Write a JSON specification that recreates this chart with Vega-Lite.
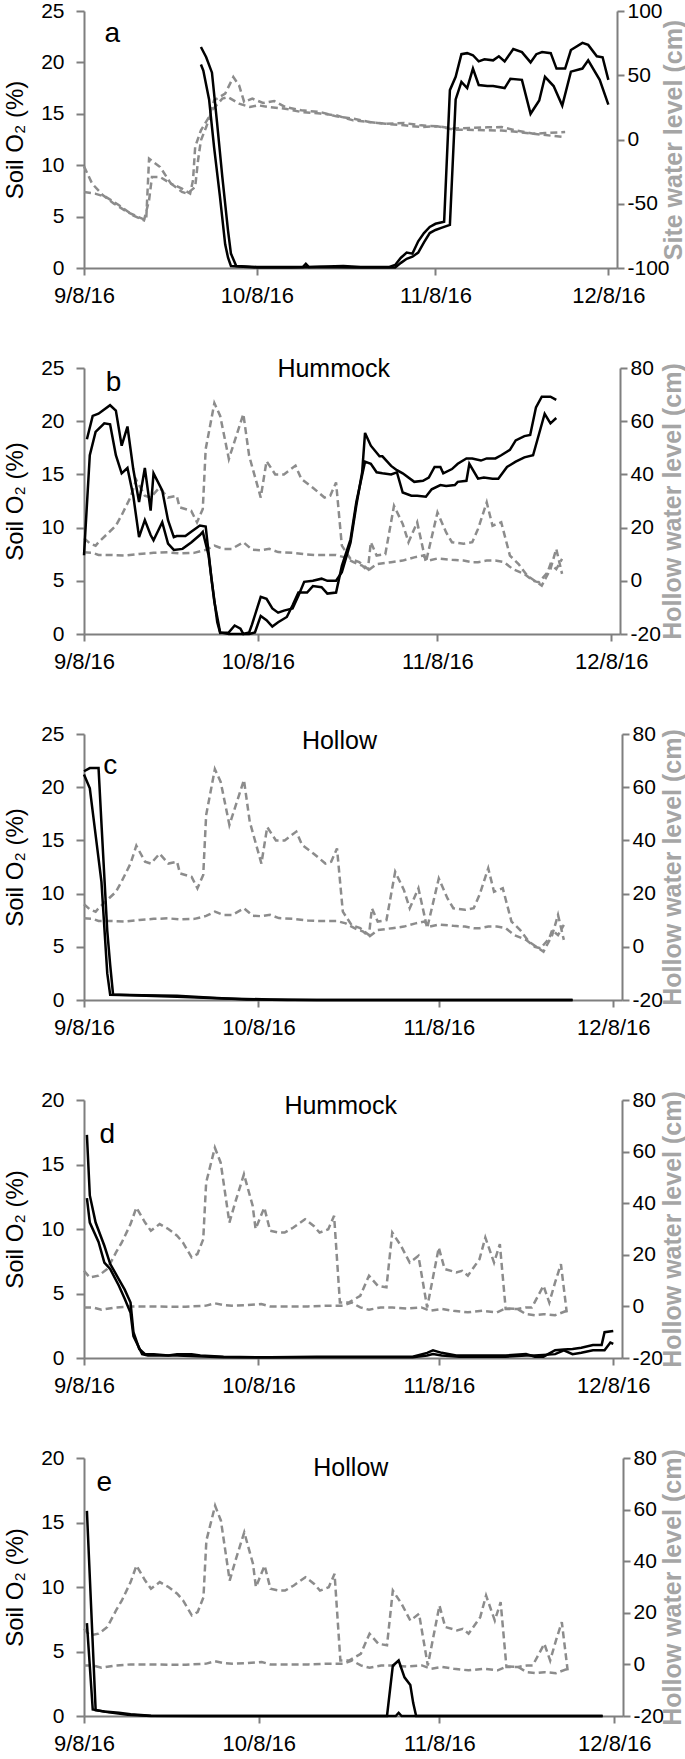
{
"$schema": "https://vega.github.io/schema/vega-lite/v6.json",
"padding": {"left": 3, "top": 0, "right": 0, "bottom": 0},
"config": {
 "view": {"stroke": null},
 "font": "Liberation Sans",
 "axis": {"labelFont": "Liberation Sans", "titleFont": "Liberation Sans", "labelFontSize": 21, "labelColor": "#000000", "domainColor": "#7f7f7f", "tickColor": "#7f7f7f", "domainWidth": 2, "tickWidth": 2, "grid": false, "labelFlush": false, "labelOverlap": false},
 "axisLeft": {"tickSize": 8, "labelPadding": 12, "titleFontSize": 24, "titleFontWeight": "normal", "titleColor": "#000000", "titlePadding": 13},
 "axisRight": {"tickSize": 7, "labelPadding": 3, "titleFontSize": 25, "titleFontWeight": "bold", "titleColor": "#a5a5a5", "titleAngle": 270, "titleBaseline": "top", "labelAlign": "left", "labelExpr": "replace(datum.label, '\u2212', '-')"},
 "axisBottom": {"tickSize": 7, "labelPadding": 10, "labelFontSize": 22, "labelExpr": "utcFormat(datum.value, '%-m/%-d/%y')"},
 "text": {"font": "Liberation Sans", "color": "#000000"}
},
"datasets": {
 "a_o2": [
  {"s":"A","t":"2016-09-28T07:00Z","v":21.5},{"s":"A","t":"2016-09-29T05:00Z","v":20.5},{"s":"A","t":"2016-09-30T05:00Z","v":19.0},{"s":"A","t":"2016-10-01T02:00Z","v":14.2},{"s":"A","t":"2016-10-02T00:00Z","v":8.9},{"s":"A","t":"2016-10-03T00:00Z","v":3.6},{"s":"A","t":"2016-10-03T12:00Z","v":1.4},{"s":"A","t":"2016-10-04T10:00Z","v":0.2},{"s":"A","t":"2016-10-08T00:00Z","v":0.1},{"s":"A","t":"2016-10-12T00:00Z","v":0.1},{"s":"A","t":"2016-10-16T00:00Z","v":0.1},{"s":"A","t":"2016-10-16T12:00Z","v":0.4},{"s":"A","t":"2016-10-17T00:00Z","v":0.1},{"s":"A","t":"2016-10-20T00:00Z","v":0.15},{"s":"A","t":"2016-10-23T00:00Z","v":0.2},{"s":"A","t":"2016-10-26T00:00Z","v":0.1},{"s":"A","t":"2016-10-31T00:00Z","v":0.1},{"s":"A","t":"2016-11-01T00:00Z","v":0.3},{"s":"A","t":"2016-11-02T00:00Z","v":1.0},{"s":"A","t":"2016-11-03T00:00Z","v":1.5},{"s":"A","t":"2016-11-04T00:00Z","v":1.4},{"s":"A","t":"2016-11-05T00:00Z","v":2.6},{"s":"A","t":"2016-11-06T00:00Z","v":3.4},{"s":"A","t":"2016-11-07T00:00Z","v":4.0},{"s":"A","t":"2016-11-08T00:00Z","v":4.3},{"s":"A","t":"2016-11-09T12:00Z","v":4.5},{"s":"A","t":"2016-11-10T12:00Z","v":17.3},{"s":"A","t":"2016-11-11T12:00Z","v":18.6},{"s":"A","t":"2016-11-12T12:00Z","v":20.8},{"s":"A","t":"2016-11-13T12:00Z","v":20.9},{"s":"A","t":"2016-11-14T12:00Z","v":20.7},{"s":"A","t":"2016-11-15T12:00Z","v":20.1},{"s":"A","t":"2016-11-16T12:00Z","v":20.3},{"s":"A","t":"2016-11-18T00:00Z","v":20.2},{"s":"A","t":"2016-11-19T00:00Z","v":20.6},{"s":"A","t":"2016-11-20T00:00Z","v":20.1},{"s":"A","t":"2016-11-21T12:00Z","v":21.3},{"s":"A","t":"2016-11-23T00:00Z","v":21.0},{"s":"A","t":"2016-11-24T12:00Z","v":20.0},{"s":"A","t":"2016-11-25T12:00Z","v":20.8},{"s":"A","t":"2016-11-26T12:00Z","v":21.0},{"s":"A","t":"2016-11-28T00:00Z","v":20.9},{"s":"A","t":"2016-11-29T00:00Z","v":19.4},{"s":"A","t":"2016-11-30T12:00Z","v":19.4},{"s":"A","t":"2016-12-01T12:00Z","v":21.2},{"s":"A","t":"2016-12-03T12:00Z","v":21.9},{"s":"A","t":"2016-12-04T12:00Z","v":21.7},{"s":"A","t":"2016-12-06T00:00Z","v":20.6},{"s":"A","t":"2016-12-07T00:00Z","v":20.5},{"s":"A","t":"2016-12-08T00:00Z","v":18.3},
  {"s":"B","t":"2016-09-28T07:00Z","v":19.8},{"s":"B","t":"2016-09-28T17:00Z","v":19.2},{"s":"B","t":"2016-09-29T17:00Z","v":16.4},{"s":"B","t":"2016-09-30T14:00Z","v":11.7},{"s":"B","t":"2016-10-01T14:00Z","v":7.0},{"s":"B","t":"2016-10-02T12:00Z","v":2.3},{"s":"B","t":"2016-10-03T00:00Z","v":1.0},{"s":"B","t":"2016-10-03T12:00Z","v":0.2},{"s":"B","t":"2016-10-08T00:00Z","v":0.05},{"s":"B","t":"2016-10-14T00:00Z","v":0.05},{"s":"B","t":"2016-10-19T00:00Z","v":0.1},{"s":"B","t":"2016-10-25T00:00Z","v":0.05},{"s":"B","t":"2016-11-01T00:00Z","v":0.05},{"s":"B","t":"2016-11-02T00:00Z","v":0.5},{"s":"B","t":"2016-11-03T00:00Z","v":0.9},{"s":"B","t":"2016-11-04T00:00Z","v":1.1},{"s":"B","t":"2016-11-05T00:00Z","v":1.5},{"s":"B","t":"2016-11-06T00:00Z","v":2.5},{"s":"B","t":"2016-11-07T00:00Z","v":3.4},{"s":"B","t":"2016-11-08T00:00Z","v":3.7},{"s":"B","t":"2016-11-09T00:00Z","v":3.9},{"s":"B","t":"2016-11-10T00:00Z","v":4.1},{"s":"B","t":"2016-11-10T12:00Z","v":4.2},{"s":"B","t":"2016-11-11T12:00Z","v":16.4},{"s":"B","t":"2016-11-12T12:00Z","v":18.1},{"s":"B","t":"2016-11-13T12:00Z","v":17.5},{"s":"B","t":"2016-11-14T12:00Z","v":19.4},{"s":"B","t":"2016-11-15T12:00Z","v":17.8},{"s":"B","t":"2016-11-17T00:00Z","v":17.7},{"s":"B","t":"2016-11-18T00:00Z","v":17.7},{"s":"B","t":"2016-11-20T00:00Z","v":17.5},{"s":"B","t":"2016-11-21T00:00Z","v":18.4},{"s":"B","t":"2016-11-23T00:00Z","v":18.3},{"s":"B","t":"2016-11-24T12:00Z","v":15.0},{"s":"B","t":"2016-11-26T00:00Z","v":16.3},{"s":"B","t":"2016-11-27T00:00Z","v":18.6},{"s":"B","t":"2016-11-28T12:00Z","v":17.7},{"s":"B","t":"2016-11-30T00:00Z","v":15.8},{"s":"B","t":"2016-12-01T12:00Z","v":19.1},{"s":"B","t":"2016-12-03T12:00Z","v":19.4},{"s":"B","t":"2016-12-04T12:00Z","v":20.2},{"s":"B","t":"2016-12-06T12:00Z","v":18.3},{"s":"B","t":"2016-12-08T00:00Z","v":15.9}
 ],
 "a_w": [
  {"s":"W1","t":"2016-09-08T00:00Z","v":-20.9},{"s":"W1","t":"2016-09-09T10:00Z","v":-34.4},{"s":"W1","t":"2016-09-11T07:00Z","v":-43.4},{"s":"W1","t":"2016-09-13T05:00Z","v":-49.9},{"s":"W1","t":"2016-09-15T12:00Z","v":-56.4},{"s":"W1","t":"2016-09-17T10:00Z","v":-60.3},{"s":"W1","t":"2016-09-18T19:00Z","v":-62.9},{"s":"W1","t":"2016-09-19T07:00Z","v":-14.9},{"s":"W1","t":"2016-09-21T05:00Z","v":-21.4},{"s":"W1","t":"2016-09-23T02:00Z","v":-34.3},{"s":"W1","t":"2016-09-25T00:00Z","v":-38.2},{"s":"W1","t":"2016-09-26T10:00Z","v":-42.1},{"s":"W1","t":"2016-09-26T22:00Z","v":-31.8},{"s":"W1","t":"2016-09-27T07:00Z","v":-5.8},{"s":"W1","t":"2016-09-28T07:00Z","v":7.2},{"s":"W1","t":"2016-09-29T17:00Z","v":17.5},{"s":"W1","t":"2016-09-30T14:00Z","v":30.5},{"s":"W1","t":"2016-10-02T12:00Z","v":35.7},{"s":"W1","t":"2016-10-03T22:00Z","v":48.6},{"s":"W1","t":"2016-10-04T22:00Z","v":42.2},{"s":"W1","t":"2016-10-05T19:00Z","v":29.2},{"s":"W1","t":"2016-10-07T05:00Z","v":31.8},{"s":"W1","t":"2016-10-09T02:00Z","v":28.4},{"s":"W1","t":"2016-10-11T00:00Z","v":30},{"s":"W1","t":"2016-10-12T22:00Z","v":25.3},{"s":"W1","t":"2016-10-15T17:00Z","v":22.7},{"s":"W1","t":"2016-10-19T00:00Z","v":21.4},{"s":"W1","t":"2016-10-21T19:00Z","v":18},{"s":"W1","t":"2016-10-24T17:00Z","v":16.2},{"s":"W1","t":"2016-10-27T12:00Z","v":13.6},{"s":"W1","t":"2016-10-30T07:00Z","v":12.3},{"s":"W1","t":"2016-11-02T14:00Z","v":12.8},{"s":"W1","t":"2016-11-05T12:00Z","v":11},{"s":"W1","t":"2016-11-08T07:00Z","v":10.3},{"s":"W1","t":"2016-11-11T02:00Z","v":8.5},{"s":"W1","t":"2016-11-17T00:00Z","v":9.5},{"s":"W1","t":"2016-11-19T12:00Z","v":9.7},{"s":"W1","t":"2016-11-22T00:00Z","v":7},{"s":"W1","t":"2016-11-25T00:00Z","v":4.5},{"s":"W1","t":"2016-11-27T00:00Z","v":5},{"s":"W1","t":"2016-11-30T12:00Z","v":5.8},
  {"s":"W2","t":"2016-09-08T00:00Z","v":-40.8},{"s":"W2","t":"2016-09-09T22:00Z","v":-42.1},{"s":"W2","t":"2016-09-11T19:00Z","v":-44.7},{"s":"W2","t":"2016-09-14T02:00Z","v":-51.2},{"s":"W2","t":"2016-09-16T12:00Z","v":-59},{"s":"W2","t":"2016-09-18T10:00Z","v":-62.9},{"s":"W2","t":"2016-09-19T07:00Z","v":-47.3},{"s":"W2","t":"2016-09-19T19:00Z","v":-29.2},{"s":"W2","t":"2016-09-21T05:00Z","v":-29.2},{"s":"W2","t":"2016-09-23T02:00Z","v":-34.3},{"s":"W2","t":"2016-09-25T00:00Z","v":-40.8},{"s":"W2","t":"2016-09-25T22:00Z","v":-42.1},{"s":"W2","t":"2016-09-27T07:00Z","v":-37},{"s":"W2","t":"2016-09-27T19:00Z","v":-16.2},{"s":"W2","t":"2016-09-28T07:00Z","v":-0.6},{"s":"W2","t":"2016-09-29T05:00Z","v":9.7},{"s":"W2","t":"2016-09-30T05:00Z","v":22.7},{"s":"W2","t":"2016-10-02T00:00Z","v":31.8},{"s":"W2","t":"2016-10-03T00:00Z","v":33},{"s":"W2","t":"2016-10-04T22:00Z","v":27.9},{"s":"W2","t":"2016-10-06T19:00Z","v":25.3},{"s":"W2","t":"2016-10-08T05:00Z","v":26.6},{"s":"W2","t":"2016-10-10T02:00Z","v":25.3},{"s":"W2","t":"2016-10-12T22:00Z","v":24},{"s":"W2","t":"2016-10-15T17:00Z","v":21.4},{"s":"W2","t":"2016-10-19T00:00Z","v":20.2},{"s":"W2","t":"2016-10-21T19:00Z","v":18.8},{"s":"W2","t":"2016-10-24T17:00Z","v":14.9},{"s":"W2","t":"2016-10-27T12:00Z","v":13.6},{"s":"W2","t":"2016-10-30T07:00Z","v":12.3},{"s":"W2","t":"2016-11-02T14:00Z","v":11},{"s":"W2","t":"2016-11-05T12:00Z","v":9.7},{"s":"W2","t":"2016-11-08T07:00Z","v":10.3},{"s":"W2","t":"2016-11-11T02:00Z","v":7.7},{"s":"W2","t":"2016-11-19T12:00Z","v":7},{"s":"W2","t":"2016-11-22T00:00Z","v":6},{"s":"W2","t":"2016-11-25T00:00Z","v":4.5},{"s":"W2","t":"2016-11-28T00:00Z","v":3},{"s":"W2","t":"2016-11-30T00:00Z","v":2}
 ],
 "b_o2": [
  {"s":"A","t":"2016-09-08T12:00Z","v":18.3},{"s":"A","t":"2016-09-09T12:00Z","v":20.5},{"s":"A","t":"2016-09-10T12:00Z","v":20.7},{"s":"A","t":"2016-09-12T12:00Z","v":21.5},{"s":"A","t":"2016-09-13T12:00Z","v":21.0},{"s":"A","t":"2016-09-14T12:00Z","v":17.7},{"s":"A","t":"2016-09-15T12:00Z","v":19.5},{"s":"A","t":"2016-09-16T12:00Z","v":15.5},{"s":"A","t":"2016-09-17T12:00Z","v":12.4},{"s":"A","t":"2016-09-18T12:00Z","v":15.6},{"s":"A","t":"2016-09-19T12:00Z","v":11.6},{"s":"A","t":"2016-09-20T00:00Z","v":15.1},{"s":"A","t":"2016-09-21T12:00Z","v":13.5},{"s":"A","t":"2016-09-22T12:00Z","v":10.7},{"s":"A","t":"2016-09-23T12:00Z","v":9.1},{"s":"A","t":"2016-09-24T00:00Z","v":9.2},{"s":"A","t":"2016-09-25T12:00Z","v":9.2},{"s":"A","t":"2016-09-26T12:00Z","v":9.6},{"s":"A","t":"2016-09-28T00:00Z","v":10.2},{"s":"A","t":"2016-09-29T00:00Z","v":10.1},{"s":"A","t":"2016-09-30T00:00Z","v":5.2},{"s":"A","t":"2016-10-01T00:00Z","v":1.1},{"s":"A","t":"2016-10-01T12:00Z","v":0.1},{"s":"A","t":"2016-10-03T00:00Z","v":0.15},{"s":"A","t":"2016-10-04T00:00Z","v":0.8},{"s":"A","t":"2016-10-05T00:00Z","v":0.5},{"s":"A","t":"2016-10-05T12:00Z","v":0},{"s":"A","t":"2016-10-06T12:00Z","v":0.15},{"s":"A","t":"2016-10-07T00:00Z","v":0.9},{"s":"A","t":"2016-10-08T12:00Z","v":3.5},{"s":"A","t":"2016-10-09T12:00Z","v":3.3},{"s":"A","t":"2016-10-10T12:00Z","v":2.4},{"s":"A","t":"2016-10-11T12:00Z","v":2.0},{"s":"A","t":"2016-10-12T12:00Z","v":2.2},{"s":"A","t":"2016-10-14T00:00Z","v":2.4},{"s":"A","t":"2016-10-15T00:00Z","v":3.6},{"s":"A","t":"2016-10-16T00:00Z","v":4.9},{"s":"A","t":"2016-10-17T12:00Z","v":5.0},{"s":"A","t":"2016-10-19T00:00Z","v":5.2},{"s":"A","t":"2016-10-20T00:00Z","v":5.0},{"s":"A","t":"2016-10-21T12:00Z","v":5.0},{"s":"A","t":"2016-10-22T12:00Z","v":5.8},{"s":"A","t":"2016-10-24T00:00Z","v":8.6},{"s":"A","t":"2016-10-25T00:00Z","v":12.1},{"s":"A","t":"2016-10-26T00:00Z","v":15.2},{"s":"A","t":"2016-10-26T12:00Z","v":18.9},{"s":"A","t":"2016-10-27T12:00Z","v":17.7},{"s":"A","t":"2016-10-29T00:00Z","v":16.7},{"s":"A","t":"2016-10-29T12:00Z","v":16.7},{"s":"A","t":"2016-10-31T00:00Z","v":15.8},{"s":"A","t":"2016-11-01T00:00Z","v":15.4},{"s":"A","t":"2016-11-02T00:00Z","v":15.1},{"s":"A","t":"2016-11-04T00:00Z","v":14.3},{"s":"A","t":"2016-11-05T12:00Z","v":14.4},{"s":"A","t":"2016-11-06T12:00Z","v":14.7},{"s":"A","t":"2016-11-07T12:00Z","v":15.7},{"s":"A","t":"2016-11-08T12:00Z","v":15.7},{"s":"A","t":"2016-11-09T00:00Z","v":15.1},{"s":"A","t":"2016-11-10T12:00Z","v":15.5},{"s":"A","t":"2016-11-11T12:00Z","v":16.0},{"s":"A","t":"2016-11-13T00:00Z","v":16.5},{"s":"A","t":"2016-11-14T00:00Z","v":16.5},{"s":"A","t":"2016-11-15T12:00Z","v":16.3},{"s":"A","t":"2016-11-16T12:00Z","v":16.5},{"s":"A","t":"2016-11-18T00:00Z","v":16.5},{"s":"A","t":"2016-11-19T00:00Z","v":16.8},{"s":"A","t":"2016-11-20T12:00Z","v":17.3},{"s":"A","t":"2016-11-21T12:00Z","v":18.2},{"s":"A","t":"2016-11-23T00:00Z","v":18.6},{"s":"A","t":"2016-11-24T00:00Z","v":18.7},{"s":"A","t":"2016-11-25T00:00Z","v":21.3},{"s":"A","t":"2016-11-26T00:00Z","v":22.3},{"s":"A","t":"2016-11-27T12:00Z","v":22.3},{"s":"A","t":"2016-11-28T12:00Z","v":22.0},
  {"s":"B","t":"2016-09-08T00:00Z","v":7.4},{"s":"B","t":"2016-09-09T00:00Z","v":16.8},{"s":"B","t":"2016-09-10T00:00Z","v":19.0},{"s":"B","t":"2016-09-11T12:00Z","v":19.8},{"s":"B","t":"2016-09-12T12:00Z","v":19.7},{"s":"B","t":"2016-09-13T12:00Z","v":16.8},{"s":"B","t":"2016-09-14T12:00Z","v":15.1},{"s":"B","t":"2016-09-15T12:00Z","v":15.6},{"s":"B","t":"2016-09-16T12:00Z","v":13.0},{"s":"B","t":"2016-09-17T12:00Z","v":9.1},{"s":"B","t":"2016-09-18T12:00Z","v":10.7},{"s":"B","t":"2016-09-19T12:00Z","v":9.3},{"s":"B","t":"2016-09-20T00:00Z","v":8.8},{"s":"B","t":"2016-09-21T12:00Z","v":10.5},{"s":"B","t":"2016-09-22T12:00Z","v":8.5},{"s":"B","t":"2016-09-23T12:00Z","v":7.9},{"s":"B","t":"2016-09-25T00:00Z","v":8.0},{"s":"B","t":"2016-09-26T12:00Z","v":8.6},{"s":"B","t":"2016-09-28T00:00Z","v":9.3},{"s":"B","t":"2016-09-28T12:00Z","v":9.6},{"s":"B","t":"2016-09-29T12:00Z","v":7.4},{"s":"B","t":"2016-09-30T12:00Z","v":3.0},{"s":"B","t":"2016-10-01T12:00Z","v":0.15},{"s":"B","t":"2016-10-03T00:00Z","v":0},{"s":"B","t":"2016-10-06T12:00Z","v":0},{"s":"B","t":"2016-10-07T12:00Z","v":0.15},{"s":"B","t":"2016-10-08T12:00Z","v":1.7},{"s":"B","t":"2016-10-09T12:00Z","v":1.3},{"s":"B","t":"2016-10-10T12:00Z","v":0.7},{"s":"B","t":"2016-10-11T12:00Z","v":1.1},{"s":"B","t":"2016-10-13T00:00Z","v":1.6},{"s":"B","t":"2016-10-14T00:00Z","v":2.7},{"s":"B","t":"2016-10-15T00:00Z","v":3.9},{"s":"B","t":"2016-10-16T12:00Z","v":3.9},{"s":"B","t":"2016-10-17T12:00Z","v":4.5},{"s":"B","t":"2016-10-19T00:00Z","v":4.4},{"s":"B","t":"2016-10-20T00:00Z","v":3.8},{"s":"B","t":"2016-10-21T12:00Z","v":3.9},{"s":"B","t":"2016-10-22T12:00Z","v":6.4},{"s":"B","t":"2016-10-24T00:00Z","v":8.9},{"s":"B","t":"2016-10-25T00:00Z","v":12.4},{"s":"B","t":"2016-10-26T12:00Z","v":16.2},{"s":"B","t":"2016-10-27T12:00Z","v":16.0},{"s":"B","t":"2016-10-28T12:00Z","v":15.2},{"s":"B","t":"2016-10-29T12:00Z","v":15.1},{"s":"B","t":"2016-10-31T00:00Z","v":15.0},{"s":"B","t":"2016-11-01T00:00Z","v":15.2},{"s":"B","t":"2016-11-02T00:00Z","v":13.3},{"s":"B","t":"2016-11-03T12:00Z","v":13.0},{"s":"B","t":"2016-11-04T12:00Z","v":13.0},{"s":"B","t":"2016-11-06T00:00Z","v":12.9},{"s":"B","t":"2016-11-07T00:00Z","v":13.6},{"s":"B","t":"2016-11-08T12:00Z","v":14.0},{"s":"B","t":"2016-11-09T12:00Z","v":13.9},{"s":"B","t":"2016-11-11T00:00Z","v":14.0},{"s":"B","t":"2016-11-11T12:00Z","v":14.3},{"s":"B","t":"2016-11-13T00:00Z","v":14.4},{"s":"B","t":"2016-11-13T12:00Z","v":16.0},{"s":"B","t":"2016-11-15T00:00Z","v":14.6},{"s":"B","t":"2016-11-16T00:00Z","v":14.7},{"s":"B","t":"2016-11-17T12:00Z","v":14.6},{"s":"B","t":"2016-11-18T12:00Z","v":14.6},{"s":"B","t":"2016-11-20T00:00Z","v":15.7},{"s":"B","t":"2016-11-21T12:00Z","v":16.2},{"s":"B","t":"2016-11-23T00:00Z","v":16.6},{"s":"B","t":"2016-11-24T12:00Z","v":16.8},{"s":"B","t":"2016-11-26T12:00Z","v":20.7},{"s":"B","t":"2016-11-27T12:00Z","v":19.8},{"s":"B","t":"2016-11-28T12:00Z","v":20.3}
 ],
 "h1_w": [
  {"s":"W1","t":"2016-09-08T00:00Z","v":16.0},{"s":"W1","t":"2016-09-09T00:00Z","v":14.1},{"s":"W1","t":"2016-09-10T00:00Z","v":13.2},{"s":"W1","t":"2016-09-10T12:00Z","v":14.5},{"s":"W1","t":"2016-09-12T00:00Z","v":17.6},{"s":"W1","t":"2016-09-13T12:00Z","v":20.7},{"s":"W1","t":"2016-09-14T12:00Z","v":24.7},{"s":"W1","t":"2016-09-16T00:00Z","v":31.3},{"s":"W1","t":"2016-09-17T00:00Z","v":38},{"s":"W1","t":"2016-09-18T12:00Z","v":32},{"s":"W1","t":"2016-09-19T12:00Z","v":31.3},{"s":"W1","t":"2016-09-21T00:00Z","v":35},{"s":"W1","t":"2016-09-22T12:00Z","v":31.3},{"s":"W1","t":"2016-09-24T00:00Z","v":32},{"s":"W1","t":"2016-09-24T12:00Z","v":27.6},{"s":"W1","t":"2016-09-26T12:00Z","v":26.3},{"s":"W1","t":"2016-09-27T12:00Z","v":22},{"s":"W1","t":"2016-09-28T12:00Z","v":27},{"s":"W1","t":"2016-09-29T00:00Z","v":49.5},{"s":"W1","t":"2016-09-30T12:00Z","v":66.8},{"s":"W1","t":"2016-10-01T12:00Z","v":62},{"s":"W1","t":"2016-10-03T00:00Z","v":45.8},{"s":"W1","t":"2016-10-05T12:00Z","v":62.7},{"s":"W1","t":"2016-10-06T12:00Z","v":47},{"s":"W1","t":"2016-10-08T12:00Z","v":31.3},{"s":"W1","t":"2016-10-09T12:00Z","v":45},{"s":"W1","t":"2016-10-11T00:00Z","v":40},{"s":"W1","t":"2016-10-12T12:00Z","v":40},{"s":"W1","t":"2016-10-14T12:00Z","v":43.3},{"s":"W1","t":"2016-10-15T12:00Z","v":38.3},{"s":"W1","t":"2016-10-17T12:00Z","v":35},{"s":"W1","t":"2016-10-19T12:00Z","v":31.3},{"s":"W1","t":"2016-10-20T12:00Z","v":32},{"s":"W1","t":"2016-10-21T12:00Z","v":37},{"s":"W1","t":"2016-10-22T12:00Z","v":13.2},{"s":"W1","t":"2016-10-24T00:00Z","v":8.2},{"s":"W1","t":"2016-10-25T12:00Z","v":7},{"s":"W1","t":"2016-10-27T00:00Z","v":4.4},{"s":"W1","t":"2016-10-27T12:00Z","v":14.5},{"s":"W1","t":"2016-10-28T12:00Z","v":9.5},{"s":"W1","t":"2016-10-30T00:00Z","v":10},{"s":"W1","t":"2016-10-31T12:00Z","v":28.2},{"s":"W1","t":"2016-11-02T00:00Z","v":21.4},{"s":"W1","t":"2016-11-03T00:00Z","v":14.5},{"s":"W1","t":"2016-11-04T12:00Z","v":22},{"s":"W1","t":"2016-11-05T12:00Z","v":12},{"s":"W1","t":"2016-11-06T00:00Z","v":7},{"s":"W1","t":"2016-11-08T00:00Z","v":25.7},{"s":"W1","t":"2016-11-09T12:00Z","v":18.2},{"s":"W1","t":"2016-11-10T12:00Z","v":14.5},{"s":"W1","t":"2016-11-12T12:00Z","v":13.9},{"s":"W1","t":"2016-11-14T00:00Z","v":14.5},{"s":"W1","t":"2016-11-15T00:00Z","v":19.5},{"s":"W1","t":"2016-11-16T12:00Z","v":29.5},{"s":"W1","t":"2016-11-17T12:00Z","v":20.7},{"s":"W1","t":"2016-11-19T00:00Z","v":22},{"s":"W1","t":"2016-11-20T12:00Z","v":9.5},{"s":"W1","t":"2016-11-22T00:00Z","v":6.3},{"s":"W1","t":"2016-11-23T12:00Z","v":1.9},{"s":"W1","t":"2016-11-26T00:00Z","v":-1.8},{"s":"W1","t":"2016-11-27T12:00Z","v":4.4},{"s":"W1","t":"2016-11-28T12:00Z","v":12},{"s":"W1","t":"2016-11-29T12:00Z","v":2.6},
  {"s":"W2","t":"2016-09-08T00:00Z","v":10.7},{"s":"W2","t":"2016-09-09T12:00Z","v":10.5},{"s":"W2","t":"2016-09-10T12:00Z","v":9.7},{"s":"W2","t":"2016-09-12T12:00Z","v":9.7},{"s":"W2","t":"2016-09-15T00:00Z","v":9.5},{"s":"W2","t":"2016-09-17T12:00Z","v":10.1},{"s":"W2","t":"2016-09-20T00:00Z","v":10.5},{"s":"W2","t":"2016-09-22T12:00Z","v":10.7},{"s":"W2","t":"2016-09-24T12:00Z","v":10.3},{"s":"W2","t":"2016-09-27T00:00Z","v":10.5},{"s":"W2","t":"2016-09-29T00:00Z","v":11.6},{"s":"W2","t":"2016-09-30T12:00Z","v":13.2},{"s":"W2","t":"2016-10-02T00:00Z","v":12},{"s":"W2","t":"2016-10-03T12:00Z","v":12},{"s":"W2","t":"2016-10-05T12:00Z","v":14.5},{"s":"W2","t":"2016-10-07T00:00Z","v":11.7},{"s":"W2","t":"2016-10-08T12:00Z","v":11.5},{"s":"W2","t":"2016-10-10T00:00Z","v":12},{"s":"W2","t":"2016-10-11T12:00Z","v":10.8},{"s":"W2","t":"2016-10-14T00:00Z","v":10.5},{"s":"W2","t":"2016-10-16T12:00Z","v":9.9},{"s":"W2","t":"2016-10-18T00:00Z","v":9.7},{"s":"W2","t":"2016-10-20T00:00Z","v":9.7},{"s":"W2","t":"2016-10-21T12:00Z","v":9.7},{"s":"W2","t":"2016-10-23T00:00Z","v":8.8},{"s":"W2","t":"2016-10-24T12:00Z","v":7},{"s":"W2","t":"2016-10-26T00:00Z","v":5.7},{"s":"W2","t":"2016-10-27T00:00Z","v":3.8},{"s":"W2","t":"2016-10-28T12:00Z","v":6.3},{"s":"W2","t":"2016-10-31T00:00Z","v":7},{"s":"W2","t":"2016-11-02T00:00Z","v":7.6},{"s":"W2","t":"2016-11-04T00:00Z","v":8.8},{"s":"W2","t":"2016-11-05T12:00Z","v":9.5},{"s":"W2","t":"2016-11-06T12:00Z","v":7.6},{"s":"W2","t":"2016-11-08T00:00Z","v":8.4},{"s":"W2","t":"2016-11-10T12:00Z","v":7.9},{"s":"W2","t":"2016-11-12T12:00Z","v":7.6},{"s":"W2","t":"2016-11-14T00:00Z","v":7},{"s":"W2","t":"2016-11-15T00:00Z","v":7},{"s":"W2","t":"2016-11-16T12:00Z","v":7.6},{"s":"W2","t":"2016-11-18T00:00Z","v":7.6},{"s":"W2","t":"2016-11-19T12:00Z","v":7},{"s":"W2","t":"2016-11-21T00:00Z","v":4.4},{"s":"W2","t":"2016-11-23T00:00Z","v":2.6},{"s":"W2","t":"2016-11-24T12:00Z","v":0},{"s":"W2","t":"2016-11-25T12:00Z","v":-0.6},{"s":"W2","t":"2016-11-27T00:00Z","v":3.2},{"s":"W2","t":"2016-11-27T12:00Z","v":6.3},{"s":"W2","t":"2016-11-28T12:00Z","v":4.4},{"s":"W2","t":"2016-11-29T12:00Z","v":8.2}
 ],
 "c_o2": [
  {"s":"A","t":"2016-09-08T00:00Z","v":21.5},{"s":"A","t":"2016-09-09T00:00Z","v":21.8},{"s":"A","t":"2016-09-10T12:00Z","v":21.8},{"s":"A","t":"2016-09-11T00:00Z","v":16.6},{"s":"A","t":"2016-09-12T00:00Z","v":6.5},{"s":"A","t":"2016-09-12T12:00Z","v":3.3},{"s":"A","t":"2016-09-13T00:00Z","v":0.5},{"s":"A","t":"2016-09-14T00:00Z","v":0.5},{"s":"A","t":"2016-09-18T00:00Z","v":0.45},{"s":"A","t":"2016-09-24T00:00Z","v":0.4},{"s":"A","t":"2016-09-30T00:00Z","v":0.2},{"s":"A","t":"2016-10-06T00:00Z","v":0.05},{"s":"A","t":"2016-10-13T00:00Z","v":0},{"s":"A","t":"2016-12-01T00:00Z","v":0},
  {"s":"B","t":"2016-09-08T00:00Z","v":21.2},{"s":"B","t":"2016-09-09T00:00Z","v":19.9},{"s":"B","t":"2016-09-10T00:00Z","v":15.5},{"s":"B","t":"2016-09-11T00:00Z","v":11.1},{"s":"B","t":"2016-09-12T00:00Z","v":2.5},{"s":"B","t":"2016-09-12T12:00Z","v":0.5},{"s":"B","t":"2016-09-16T00:00Z","v":0.45},{"s":"B","t":"2016-09-24T00:00Z","v":0.3},{"s":"B","t":"2016-10-02T00:00Z","v":0.15},{"s":"B","t":"2016-10-10T00:00Z","v":0.05},{"s":"B","t":"2016-10-18T00:00Z","v":0},{"s":"B","t":"2016-12-01T00:00Z","v":0}
 ],
 "d_o2": [
  {"s":"A","t":"2016-09-08T12:00Z","v":17.3},{"s":"A","t":"2016-09-09T00:00Z","v":12.6},{"s":"A","t":"2016-09-10T00:00Z","v":10.5},{"s":"A","t":"2016-09-11T12:00Z","v":8.7},{"s":"A","t":"2016-09-12T12:00Z","v":7.3},{"s":"A","t":"2016-09-14T00:00Z","v":6.1},{"s":"A","t":"2016-09-15T00:00Z","v":5.3},{"s":"A","t":"2016-09-16T00:00Z","v":4.3},{"s":"A","t":"2016-09-16T12:00Z","v":2.0},{"s":"A","t":"2016-09-17T12:00Z","v":0.7},{"s":"A","t":"2016-09-18T12:00Z","v":0.3},{"s":"A","t":"2016-09-20T00:00Z","v":0.3},{"s":"A","t":"2016-09-22T12:00Z","v":0.2},{"s":"A","t":"2016-09-24T00:00Z","v":0.3},{"s":"A","t":"2016-09-26T12:00Z","v":0.3},{"s":"A","t":"2016-09-28T00:00Z","v":0.2},{"s":"A","t":"2016-10-02T00:00Z","v":0.1},{"s":"A","t":"2016-10-10T00:00Z","v":0.05},{"s":"A","t":"2016-10-18T00:00Z","v":0.1},{"s":"A","t":"2016-10-26T12:00Z","v":0.1},{"s":"A","t":"2016-11-03T12:00Z","v":0.1},{"s":"A","t":"2016-11-06T00:00Z","v":0.4},{"s":"A","t":"2016-11-07T00:00Z","v":0.6},{"s":"A","t":"2016-11-08T12:00Z","v":0.4},{"s":"A","t":"2016-11-11T00:00Z","v":0.2},{"s":"A","t":"2016-11-13T00:00Z","v":0.2},{"s":"A","t":"2016-11-19T12:00Z","v":0.2},{"s":"A","t":"2016-11-23T00:00Z","v":0.3},{"s":"A","t":"2016-11-24T12:00Z","v":0.1},{"s":"A","t":"2016-11-26T00:00Z","v":0.1},{"s":"A","t":"2016-11-28T00:00Z","v":0.6},{"s":"A","t":"2016-11-29T12:00Z","v":0.65},{"s":"A","t":"2016-12-01T00:00Z","v":0.7},{"s":"A","t":"2016-12-02T12:00Z","v":0.8},{"s":"A","t":"2016-12-04T12:00Z","v":1.0},{"s":"A","t":"2016-12-06T00:00Z","v":1.0},{"s":"A","t":"2016-12-06T12:00Z","v":2.0},{"s":"A","t":"2016-12-08T00:00Z","v":2.1},
  {"s":"B","t":"2016-09-08T12:00Z","v":12.4},{"s":"B","t":"2016-09-09T00:00Z","v":10.5},{"s":"B","t":"2016-09-10T12:00Z","v":9.0},{"s":"B","t":"2016-09-11T12:00Z","v":7.4},{"s":"B","t":"2016-09-12T12:00Z","v":6.9},{"s":"B","t":"2016-09-14T00:00Z","v":5.6},{"s":"B","t":"2016-09-15T00:00Z","v":4.6},{"s":"B","t":"2016-09-16T00:00Z","v":3.5},{"s":"B","t":"2016-09-16T12:00Z","v":1.7},{"s":"B","t":"2016-09-18T00:00Z","v":0.3},{"s":"B","t":"2016-09-19T00:00Z","v":0.2},{"s":"B","t":"2016-09-24T00:00Z","v":0.2},{"s":"B","t":"2016-10-02T00:00Z","v":0.05},{"s":"B","t":"2016-10-18T00:00Z","v":0.05},{"s":"B","t":"2016-11-03T12:00Z","v":0.05},{"s":"B","t":"2016-11-06T00:00Z","v":0.2},{"s":"B","t":"2016-11-07T00:00Z","v":0.3},{"s":"B","t":"2016-11-08T12:00Z","v":0.2},{"s":"B","t":"2016-11-11T12:00Z","v":0.1},{"s":"B","t":"2016-11-19T12:00Z","v":0.1},{"s":"B","t":"2016-11-23T00:00Z","v":0.2},{"s":"B","t":"2016-11-24T12:00Z","v":0.2},{"s":"B","t":"2016-11-28T00:00Z","v":0.3},{"s":"B","t":"2016-11-29T12:00Z","v":0.6},{"s":"B","t":"2016-12-01T00:00Z","v":0.3},{"s":"B","t":"2016-12-02T12:00Z","v":0.4},{"s":"B","t":"2016-12-04T12:00Z","v":0.6},{"s":"B","t":"2016-12-06T12:00Z","v":0.6},{"s":"B","t":"2016-12-07T12:00Z","v":1.2},{"s":"B","t":"2016-12-08T00:00Z","v":1.1}
 ],
 "h2_w": [
  {"s":"W1","t":"2016-09-08T00:00Z","v":13.8},{"s":"W1","t":"2016-09-09T00:00Z","v":11.2},{"s":"W1","t":"2016-09-10T12:00Z","v":11.9},{"s":"W1","t":"2016-09-12T00:00Z","v":14.5},{"s":"W1","t":"2016-09-13T12:00Z","v":20.9},{"s":"W1","t":"2016-09-14T12:00Z","v":24.8},{"s":"W1","t":"2016-09-16T00:00Z","v":31.9},{"s":"W1","t":"2016-09-17T00:00Z","v":38.3},{"s":"W1","t":"2016-09-18T12:00Z","v":32.5},{"s":"W1","t":"2016-09-19T12:00Z","v":29.3},{"s":"W1","t":"2016-09-21T00:00Z","v":31.9},{"s":"W1","t":"2016-09-22T12:00Z","v":30},{"s":"W1","t":"2016-09-24T00:00Z","v":27.4},{"s":"W1","t":"2016-09-25T00:00Z","v":24.8},{"s":"W1","t":"2016-09-26T12:00Z","v":19},{"s":"W1","t":"2016-09-27T12:00Z","v":20.3},{"s":"W1","t":"2016-09-28T12:00Z","v":26},{"s":"W1","t":"2016-09-29T00:00Z","v":48},{"s":"W1","t":"2016-09-30T12:00Z","v":61.5},{"s":"W1","t":"2016-10-01T12:00Z","v":55.7},{"s":"W1","t":"2016-10-03T00:00Z","v":32.5},{"s":"W1","t":"2016-10-04T00:00Z","v":40.3},{"s":"W1","t":"2016-10-05T12:00Z","v":51.2},{"s":"W1","t":"2016-10-07T00:00Z","v":39},{"s":"W1","t":"2016-10-07T12:00Z","v":30},{"s":"W1","t":"2016-10-09T00:00Z","v":38.3},{"s":"W1","t":"2016-10-10T00:00Z","v":29.3},{"s":"W1","t":"2016-10-11T12:00Z","v":28.6},{"s":"W1","t":"2016-10-12T12:00Z","v":28.6},{"s":"W1","t":"2016-10-14T00:00Z","v":30.6},{"s":"W1","t":"2016-10-16T00:00Z","v":33.8},{"s":"W1","t":"2016-10-17T12:00Z","v":31.2},{"s":"W1","t":"2016-10-18T12:00Z","v":28.6},{"s":"W1","t":"2016-10-20T00:00Z","v":29.9},{"s":"W1","t":"2016-10-21T00:00Z","v":35.1},{"s":"W1","t":"2016-10-22T00:00Z","v":1.5},{"s":"W1","t":"2016-10-23T12:00Z","v":1.5},{"s":"W1","t":"2016-10-25T12:00Z","v":4.1},{"s":"W1","t":"2016-10-27T00:00Z","v":11.9},{"s":"W1","t":"2016-10-28T12:00Z","v":8},{"s":"W1","t":"2016-10-30T00:00Z","v":7.4},{"s":"W1","t":"2016-10-31T00:00Z","v":28.6},{"s":"W1","t":"2016-11-01T12:00Z","v":23.5},{"s":"W1","t":"2016-11-03T00:00Z","v":17},{"s":"W1","t":"2016-11-04T12:00Z","v":19.6},{"s":"W1","t":"2016-11-06T00:00Z","v":-0.4},{"s":"W1","t":"2016-11-08T00:00Z","v":22.8},{"s":"W1","t":"2016-11-09T00:00Z","v":14.5},{"s":"W1","t":"2016-11-11T00:00Z","v":13.2},{"s":"W1","t":"2016-11-12T00:00Z","v":13.8},{"s":"W1","t":"2016-11-13T00:00Z","v":11.9},{"s":"W1","t":"2016-11-15T00:00Z","v":18.3},{"s":"W1","t":"2016-11-16T00:00Z","v":26.7},{"s":"W1","t":"2016-11-17T12:00Z","v":17},{"s":"W1","t":"2016-11-18T12:00Z","v":24.1},{"s":"W1","t":"2016-11-19T12:00Z","v":-1},{"s":"W1","t":"2016-11-21T12:00Z","v":-1},{"s":"W1","t":"2016-11-23T00:00Z","v":-0.4},{"s":"W1","t":"2016-11-24T00:00Z","v":-0.4},{"s":"W1","t":"2016-11-26T00:00Z","v":8},{"s":"W1","t":"2016-11-27T00:00Z","v":1.5},{"s":"W1","t":"2016-11-28T00:00Z","v":9.3},{"s":"W1","t":"2016-11-29T00:00Z","v":16.4},{"s":"W1","t":"2016-11-30T00:00Z","v":-2.3},
  {"s":"W2","t":"2016-09-08T00:00Z","v":-0.4},{"s":"W2","t":"2016-09-09T12:00Z","v":-0.4},{"s":"W2","t":"2016-09-11T00:00Z","v":-1.3},{"s":"W2","t":"2016-09-13T12:00Z","v":-0.4},{"s":"W2","t":"2016-09-16T00:00Z","v":0},{"s":"W2","t":"2016-09-19T00:00Z","v":0},{"s":"W2","t":"2016-09-22T12:00Z","v":-0.1},{"s":"W2","t":"2016-09-25T12:00Z","v":-0.1},{"s":"W2","t":"2016-09-29T00:00Z","v":0.3},{"s":"W2","t":"2016-09-30T12:00Z","v":1.2},{"s":"W2","t":"2016-10-02T00:00Z","v":0.5},{"s":"W2","t":"2016-10-03T12:00Z","v":0.3},{"s":"W2","t":"2016-10-06T00:00Z","v":0.5},{"s":"W2","t":"2016-10-08T12:00Z","v":0.9},{"s":"W2","t":"2016-10-10T00:00Z","v":0},{"s":"W2","t":"2016-10-13T12:00Z","v":0},{"s":"W2","t":"2016-10-16T12:00Z","v":0},{"s":"W2","t":"2016-10-20T00:00Z","v":0.3},{"s":"W2","t":"2016-10-22T12:00Z","v":0.3},{"s":"W2","t":"2016-10-24T00:00Z","v":1.5},{"s":"W2","t":"2016-10-25T12:00Z","v":-0.4},{"s":"W2","t":"2016-10-27T00:00Z","v":-1.3},{"s":"W2","t":"2016-10-29T00:00Z","v":-0.4},{"s":"W2","t":"2016-10-31T00:00Z","v":-0.4},{"s":"W2","t":"2016-11-02T12:00Z","v":-0.8},{"s":"W2","t":"2016-11-05T00:00Z","v":-0.4},{"s":"W2","t":"2016-11-06T12:00Z","v":-1.7},{"s":"W2","t":"2016-11-08T12:00Z","v":-1},{"s":"W2","t":"2016-11-10T12:00Z","v":-1.7},{"s":"W2","t":"2016-11-13T00:00Z","v":-2.3},{"s":"W2","t":"2016-11-15T12:00Z","v":-1.7},{"s":"W2","t":"2016-11-18T00:00Z","v":-2.3},{"s":"W2","t":"2016-11-19T12:00Z","v":-0.8},{"s":"W2","t":"2016-11-21T12:00Z","v":-1},{"s":"W2","t":"2016-11-23T00:00Z","v":-3},{"s":"W2","t":"2016-11-24T12:00Z","v":-3.4},{"s":"W2","t":"2016-11-26T00:00Z","v":-3},{"s":"W2","t":"2016-11-28T00:00Z","v":-3.4},{"s":"W2","t":"2016-11-30T00:00Z","v":-1.7}
 ],
 "e_o2": [
  {"s":"A","t":"2016-09-08T12:00Z","v":15.9},{"s":"A","t":"2016-09-10T00:00Z","v":0.45},{"s":"A","t":"2016-09-11T12:00Z","v":0.35},{"s":"A","t":"2016-09-14T00:00Z","v":0.25},{"s":"A","t":"2016-09-16T00:00Z","v":0.13},{"s":"A","t":"2016-09-19T12:00Z","v":0.02},{"s":"A","t":"2016-09-28T00:00Z","v":0},{"s":"A","t":"2016-10-30T00:00Z","v":0},{"s":"A","t":"2016-10-31T00:00Z","v":3.9},{"s":"A","t":"2016-11-01T00:00Z","v":4.3},{"s":"A","t":"2016-11-02T00:00Z","v":3.0},{"s":"A","t":"2016-11-03T00:00Z","v":2.4},{"s":"A","t":"2016-11-03T12:00Z","v":1.0},{"s":"A","t":"2016-11-04T00:00Z","v":0},{"s":"A","t":"2016-11-17T00:00Z","v":0},{"s":"A","t":"2016-12-06T00:00Z","v":0},
  {"s":"B","t":"2016-09-08T12:00Z","v":7.2},{"s":"B","t":"2016-09-09T12:00Z","v":0.5},{"s":"B","t":"2016-09-12T00:00Z","v":0.3},{"s":"B","t":"2016-09-15T12:00Z","v":0.1},{"s":"B","t":"2016-09-19T12:00Z","v":0},{"s":"B","t":"2016-10-31T12:00Z","v":0},{"s":"B","t":"2016-11-01T00:00Z","v":0.25},{"s":"B","t":"2016-11-01T12:00Z","v":0},{"s":"B","t":"2016-12-06T00:00Z","v":0}
 ]
},
"vconcat": [
 {
  "width": 533, "height": 257,
  "layer": [
   {"data": {"name": "a_w"},
    "mark": {"type": "line", "color": "#8c8c8c", "strokeWidth": 2.5, "strokeDash": [7, 4]},
    "encoding": {
     "x": {"field": "t", "type": "temporal", "scale": {"type": "utc", "nice": false, "domain": [{"year": 2016, "month": 9, "date": 8, "utc": true}, {"year": 2016, "month": 12, "date": 9, "hours": 12, "utc": true}]},
           "axis": {"orient": "bottom", "title": null, "values": [{"year": 2016, "month": 9, "date": 8, "utc": true}, {"year": 2016, "month": 10, "date": 8, "utc": true}, {"year": 2016, "month": 11, "date": 8, "utc": true}, {"year": 2016, "month": 12, "date": 8, "utc": true}]}},
     "y": {"field": "v", "type": "quantitative", "scale": {"domain": [-100, 100], "nice": false}, "axis": {"orient": "right", "values": [-100, -50, 0, 50, 100], "title": "Site water level (cm)", "titlePadding": -8}},
     "detail": {"field": "s"}
    }},
   {"layer": [
     {"data": {"name": "a_o2"},
      "mark": {"type": "line", "color": "#000000", "strokeWidth": 2.5},
      "encoding": {
       "x": {"field": "t", "type": "temporal"},
       "y": {"field": "v", "type": "quantitative", "scale": {"domain": [0, 25], "nice": false, "zero": false}, "axis": {"orient": "left", "values": [0, 5, 10, 15, 20, 25], "title": "Soil O₂ (%)"}},
       "detail": {"field": "s"}
      }},
     {"data": {"values": [{"label": "a"}]},
      "mark": {"type": "text", "fontSize": 28, "align": "center", "baseline": "middle"},
      "encoding": {"x": {"datum": {"year": 2016, "month": 9, "date": 12, "hours": 22, "utc": true}, "type": "temporal"}, "y": {"datum": 22.8, "type": "quantitative", "scale": {"domain": [0, 25], "nice": false}}, "text": {"field": "label"}}}
   ]}
  ],
  "resolve": {"scale": {"y": "independent"}}
 },
 {
  "width": 536, "height": 266,
  "layer": [
   {"data": {"name": "h1_w"},
    "mark": {"type": "line", "color": "#8c8c8c", "strokeWidth": 2.5, "strokeDash": [7, 4]},
    "encoding": {
     "x": {"field": "t", "type": "temporal", "scale": {"type": "utc", "nice": false, "domain": [{"year": 2016, "month": 9, "date": 8, "utc": true}, {"year": 2016, "month": 12, "date": 9, "hours": 12, "utc": true}]},
           "axis": {"orient": "bottom", "title": null, "values": [{"year": 2016, "month": 9, "date": 8, "utc": true}, {"year": 2016, "month": 10, "date": 8, "utc": true}, {"year": 2016, "month": 11, "date": 8, "utc": true}, {"year": 2016, "month": 12, "date": 8, "utc": true}]}},
     "y": {"field": "v", "type": "quantitative", "scale": {"domain": [-20, 80], "nice": false}, "axis": {"orient": "right", "values": [-20, 0, 20, 40, 60, 80], "title": "Hollow water level (cm)", "titlePadding": 0}},
     "detail": {"field": "s"}
    }},
   {"layer": [
     {"data": {"name": "b_o2"},
      "mark": {"type": "line", "color": "#000000", "strokeWidth": 2.5},
      "encoding": {
       "x": {"field": "t", "type": "temporal"},
       "y": {"field": "v", "type": "quantitative", "scale": {"domain": [0, 25], "nice": false, "zero": false}, "axis": {"orient": "left", "values": [0, 5, 10, 15, 20, 25], "title": "Soil O₂ (%)"}},
       "detail": {"field": "s"}
      }},
     {"data": {"values": [{"label": "b"}]},
      "mark": {"type": "text", "fontSize": 28, "align": "center", "baseline": "middle"},
      "encoding": {"x": {"datum": {"year": 2016, "month": 9, "date": 13, "hours": 2, "utc": true}, "type": "temporal"}, "y": {"datum": 23.6, "type": "quantitative", "scale": {"domain": [0, 25], "nice": false}}, "text": {"field": "label"}}},
     {"data": {"values": [{"label": "Hummock"}]},
      "mark": {"type": "text", "fontSize": 25, "align": "center", "baseline": "middle"},
      "encoding": {"x": {"datum": {"year": 2016, "month": 10, "date": 21, "hours": 2, "utc": true}, "type": "temporal"}, "y": {"datum": 24.9, "type": "quantitative", "scale": {"domain": [0, 25], "nice": false}}, "text": {"field": "label"}}}
   ]}
  ],
  "resolve": {"scale": {"y": "independent"}}
 },
 {
  "width": 538, "height": 266,
  "layer": [
   {"data": {"name": "h1_w"},
    "mark": {"type": "line", "color": "#8c8c8c", "strokeWidth": 2.5, "strokeDash": [7, 4]},
    "encoding": {
     "x": {"field": "t", "type": "temporal", "scale": {"type": "utc", "nice": false, "domain": [{"year": 2016, "month": 9, "date": 8, "utc": true}, {"year": 2016, "month": 12, "date": 9, "hours": 12, "utc": true}]},
           "axis": {"orient": "bottom", "title": null, "values": [{"year": 2016, "month": 9, "date": 8, "utc": true}, {"year": 2016, "month": 10, "date": 8, "utc": true}, {"year": 2016, "month": 11, "date": 8, "utc": true}, {"year": 2016, "month": 12, "date": 8, "utc": true}]}},
     "y": {"field": "v", "type": "quantitative", "scale": {"domain": [-20, 80], "nice": false}, "axis": {"orient": "right", "values": [-20, 0, 20, 40, 60, 80], "title": "Hollow water level (cm)", "titlePadding": -2}},
     "detail": {"field": "s"}
    }},
   {"layer": [
     {"data": {"name": "c_o2"},
      "mark": {"type": "line", "color": "#000000", "strokeWidth": 2.5},
      "encoding": {
       "x": {"field": "t", "type": "temporal"},
       "y": {"field": "v", "type": "quantitative", "scale": {"domain": [0, 25], "nice": false, "zero": false}, "axis": {"orient": "left", "values": [0, 5, 10, 15, 20, 25], "title": "Soil O₂ (%)"}},
       "detail": {"field": "s"}
      }},
     {"data": {"values": [{"label": "c"}]},
      "mark": {"type": "text", "fontSize": 28, "align": "center", "baseline": "middle"},
      "encoding": {"x": {"datum": {"year": 2016, "month": 9, "date": 12, "hours": 12, "utc": true}, "type": "temporal"}, "y": {"datum": 22.0, "type": "quantitative", "scale": {"domain": [0, 25], "nice": false}}, "text": {"field": "label"}}},
     {"data": {"values": [{"label": "Hollow"}]},
      "mark": {"type": "text", "fontSize": 25, "align": "center", "baseline": "middle"},
      "encoding": {"x": {"datum": {"year": 2016, "month": 10, "date": 21, "hours": 22, "utc": true}, "type": "temporal"}, "y": {"datum": 24.3, "type": "quantitative", "scale": {"domain": [0, 25], "nice": false}}, "text": {"field": "label"}}}
   ]}
  ],
  "resolve": {"scale": {"y": "independent"}}
 },
 {
  "width": 538, "height": 258,
  "layer": [
   {"data": {"name": "h2_w"},
    "mark": {"type": "line", "color": "#8c8c8c", "strokeWidth": 2.5, "strokeDash": [7, 4]},
    "encoding": {
     "x": {"field": "t", "type": "temporal", "scale": {"type": "utc", "nice": false, "domain": [{"year": 2016, "month": 9, "date": 8, "utc": true}, {"year": 2016, "month": 12, "date": 9, "hours": 12, "utc": true}]},
           "axis": {"orient": "bottom", "title": null, "values": [{"year": 2016, "month": 9, "date": 8, "utc": true}, {"year": 2016, "month": 10, "date": 8, "utc": true}, {"year": 2016, "month": 11, "date": 8, "utc": true}, {"year": 2016, "month": 12, "date": 8, "utc": true}]}},
     "y": {"field": "v", "type": "quantitative", "scale": {"domain": [-20, 80], "nice": false}, "axis": {"orient": "right", "values": [-20, 0, 20, 40, 60, 80], "title": "Hollow water level (cm)", "titlePadding": -2}},
     "detail": {"field": "s"}
    }},
   {"layer": [
     {"data": {"name": "d_o2"},
      "mark": {"type": "line", "color": "#000000", "strokeWidth": 2.5},
      "encoding": {
       "x": {"field": "t", "type": "temporal"},
       "y": {"field": "v", "type": "quantitative", "scale": {"domain": [0, 20], "nice": false, "zero": false}, "axis": {"orient": "left", "values": [0, 5, 10, 15, 20], "title": "Soil O₂ (%)"}},
       "detail": {"field": "s"}
      }},
     {"data": {"values": [{"label": "d"}]},
      "mark": {"type": "text", "fontSize": 28, "align": "center", "baseline": "middle"},
      "encoding": {"x": {"datum": {"year": 2016, "month": 9, "date": 12, "hours": 0, "utc": true}, "type": "temporal"}, "y": {"datum": 17.3, "type": "quantitative", "scale": {"domain": [0, 20], "nice": false}}, "text": {"field": "label"}}},
     {"data": {"values": [{"label": "Hummock"}]},
      "mark": {"type": "text", "fontSize": 25, "align": "center", "baseline": "middle"},
      "encoding": {"x": {"datum": {"year": 2016, "month": 10, "date": 22, "hours": 3, "utc": true}, "type": "temporal"}, "y": {"datum": 19.5, "type": "quantitative", "scale": {"domain": [0, 20], "nice": false}}, "text": {"field": "label"}}}
   ]}
  ],
  "resolve": {"scale": {"y": "independent"}}
 },
 {
  "width": 539, "height": 258,
  "layer": [
   {"data": {"name": "h2_w"},
    "mark": {"type": "line", "color": "#8c8c8c", "strokeWidth": 2.5, "strokeDash": [7, 4]},
    "encoding": {
     "x": {"field": "t", "type": "temporal", "scale": {"type": "utc", "nice": false, "domain": [{"year": 2016, "month": 9, "date": 8, "utc": true}, {"year": 2016, "month": 12, "date": 9, "hours": 12, "utc": true}]},
           "axis": {"orient": "bottom", "title": null, "values": [{"year": 2016, "month": 9, "date": 8, "utc": true}, {"year": 2016, "month": 10, "date": 8, "utc": true}, {"year": 2016, "month": 11, "date": 8, "utc": true}, {"year": 2016, "month": 12, "date": 8, "utc": true}]}},
     "y": {"field": "v", "type": "quantitative", "scale": {"domain": [-20, 80], "nice": false}, "axis": {"orient": "right", "values": [-20, 0, 20, 40, 60, 80], "title": "Hollow water level (cm)", "titlePadding": -3}},
     "detail": {"field": "s"}
    }},
   {"layer": [
     {"data": {"name": "e_o2"},
      "mark": {"type": "line", "color": "#000000", "strokeWidth": 2.5},
      "encoding": {
       "x": {"field": "t", "type": "temporal"},
       "y": {"field": "v", "type": "quantitative", "scale": {"domain": [0, 20], "nice": false, "zero": false}, "axis": {"orient": "left", "values": [0, 5, 10, 15, 20], "title": "Soil O₂ (%)"}},
       "detail": {"field": "s"}
      }},
     {"data": {"values": [{"label": "e"}]},
      "mark": {"type": "text", "fontSize": 28, "align": "center", "baseline": "middle"},
      "encoding": {"x": {"datum": {"year": 2016, "month": 9, "date": 11, "hours": 12, "utc": true}, "type": "temporal"}, "y": {"datum": 18.1, "type": "quantitative", "scale": {"domain": [0, 20], "nice": false}}, "text": {"field": "label"}}},
     {"data": {"values": [{"label": "Hollow"}]},
      "mark": {"type": "text", "fontSize": 25, "align": "center", "baseline": "middle"},
      "encoding": {"x": {"datum": {"year": 2016, "month": 10, "date": 23, "hours": 19, "utc": true}, "type": "temporal"}, "y": {"datum": 19.2, "type": "quantitative", "scale": {"domain": [0, 20], "nice": false}}, "text": {"field": "label"}}}
   ]}
  ],
  "resolve": {"scale": {"y": "independent"}}
 }
],
"spacing": 100,
"bounds": "flush",
"resolve": {"scale": {"x": "independent", "y": "independent"}}
}
